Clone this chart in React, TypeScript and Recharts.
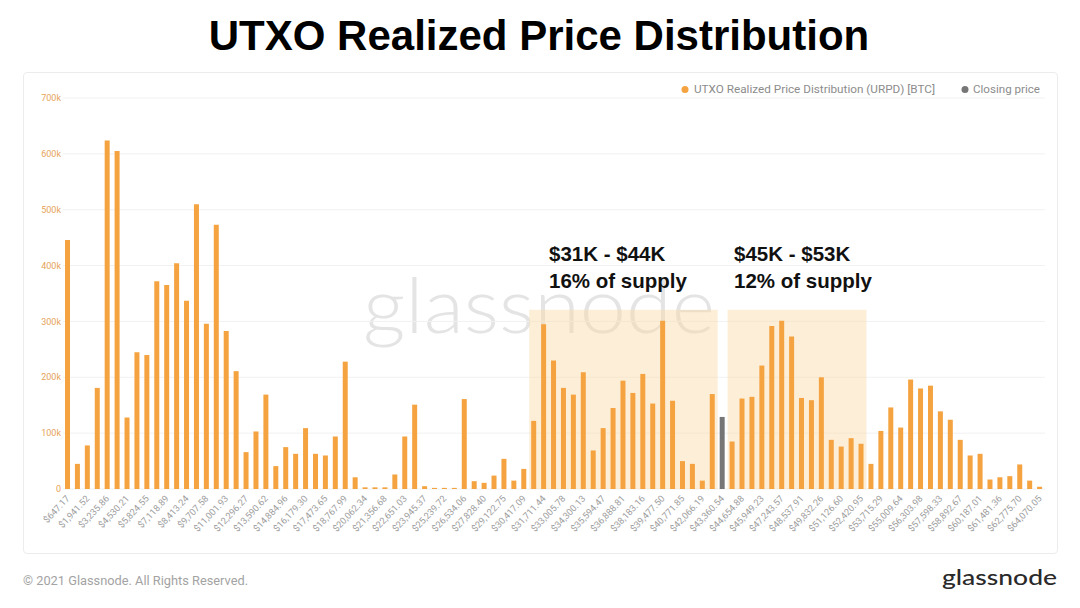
import React from 'react';
import { BarChart, Bar, XAxis, YAxis, CartesianGrid, ReferenceArea } from 'recharts';

// price bucket labels (shown on every second bar)
const PRICE_LABELS = [
  '$647.17', '$1,941.52', '$3,235.86', '$4,530.21', '$5,824.55', '$7,118.89', '$8,413.24', '$9,707.58',
  '$11,001.93', '$12,296.27', '$13,590.62', '$14,884.96', '$16,179.30', '$17,473.65', '$18,767.99',
  '$20,062.34', '$21,356.68', '$22,651.03', '$23,945.37', '$25,239.72', '$26,534.06', '$27,828.40',
  '$29,122.75', '$30,417.09', '$31,711.44', '$33,005.78', '$34,300.13', '$35,594.47', '$36,888.81',
  '$38,183.16', '$39,477.50', '$40,771.85', '$42,066.19', '$43,360.54', '$44,654.88', '$45,949.23',
  '$47,243.57', '$48,537.91', '$49,832.26', '$51,126.60', '$52,420.95', '$53,715.29', '$55,009.64',
  '$56,303.98', '$57,598.33', '$58,892.67', '$60,187.01', '$61,481.36', '$62,775.70', '$64,070.05',
];

// BTC per bucket, in thousands
const URPD_K = [
  446, 45, 78, 181, 624, 605, 128, 245, 240, 372,
  365, 404, 337, 510, 296, 473, 283, 211, 66, 103,
  169, 41, 75, 63, 109, 63, 60, 94, 228, 21,
  3, 3, 3, 26, 94, 151, 5, 2, 2, 2,
  161, 14, 11, 24, 54, 15, 36, 122, 295, 230,
  181, 169, 209, 69, 109, 145, 194, 172, 206, 153,
  301, 158, 50, 45, 15, 170, 129, 85, 162, 165,
  221, 292, 301, 273, 163, 159, 200, 88, 76, 91,
  81, 45, 104, 146, 110, 196, 180, 185, 139, 124,
  88, 60, 63, 17, 21, 23, 44, 15, 4,
];

const CLOSING_INDEX = 66;
const Y_TICKS = [0, 100000, 200000, 300000, 400000, 500000, 600000, 700000];

const ZONES = [
  { from: 47, to: 65, top: 321000, range: '$31K - $44K', share: '16% of supply' },
  { from: 67, to: 80, top: 321000, range: '$45K - $53K', share: '12% of supply' },
];

const ORANGE = '#f4a340';
const GREY_BAR = '#767676';

const rows = URPD_K.map((v, i) => ({
  idx: i,
  urpd: i === CLOSING_INDEX ? 0 : v * 1000,
  closing: i === CLOSING_INDEX ? v * 1000 : 0,
}));

function PriceTick(props: any) {
  const { x, y, payload } = props;
  const i = payload.value as number;
  if (i % 2 !== 0) return <g />;
  return (
    <g transform={`translate(${x},${y})`}>
      <text
        x={0}
        y={0}
        dy={3}
        textAnchor="end"
        transform="rotate(-47)"
        fontSize={9.2}
        fill="#9d9d9d"
        fontFamily="Roboto, sans-serif"
      >
        {PRICE_LABELS[i / 2]}
      </text>
    </g>
  );
}

export default function App() {
  const sans = 'Roboto, "Noto Sans", sans-serif';
  const bold = '"Liberation Sans", Arial, sans-serif';
  return (
    <div style={{ position: 'absolute', left: 0, top: 0, width: 1080, height: 608, background: '#fff', overflow: 'hidden' }}>
      {/* card */}
      <div style={{ position: 'absolute', left: 23, top: 72, width: 1033, height: 480, border: '1px solid #ececec', borderRadius: 4 }} />

      {/* watermark */}
      <svg width={1080} height={608} style={{ position: 'absolute', left: 0, top: 0 }}>
        <text x={363} y={333} fontSize={76} fontWeight={300} fill="#e4e4e4" fontFamily={'Lato, "Noto Sans", sans-serif'} textLength={352} lengthAdjust="spacingAndGlyphs">
          glassnode
        </text>
      </svg>

      <div style={{ position: 'absolute', left: 0, top: 0 }}>
        <BarChart width={1080} height={608} data={rows} margin={{ top: 98, right: 35, bottom: 59, left: 23 }} barSize={5}>
          <CartesianGrid vertical={false} stroke="#f1f1f1" />
          {ZONES.map(z => (
            <ReferenceArea
              key={z.range}
              x1={z.from}
              x2={z.to}
              y1={0}
              y2={z.top}
              fill="#fbd9a8"
              fillOpacity={0.45}
              stroke="none"
            />
          ))}
          <XAxis
            dataKey="idx"
            type="category"
            interval={1}
            tickLine={false}
            axisLine={false}
            tickSize={0}
            tickMargin={8}
            height={60}
            tick={<PriceTick />}
          />
          <YAxis
            domain={[0, 700000]}
            ticks={Y_TICKS}
            tickFormatter={v => (v === 0 ? '0' : `${v / 1000}k`)}
            tick={{ fill: '#e5a35a', fontSize: 9, fontFamily: sans }}
            tickLine={false}
            axisLine={false}
            tickSize={0}
            tickMargin={2}
            width={40}
          />
          <Bar dataKey="urpd" stackId="s" fill={ORANGE} isAnimationActive={false} />
          <Bar dataKey="closing" stackId="s" fill={GREY_BAR} isAnimationActive={false} />
        </BarChart>
      </div>

      {/* texts */}
      <svg width={1080} height={608} style={{ position: 'absolute', left: 0, top: 0, pointerEvents: 'none' }}>
        <text x={539} y={50} textAnchor="middle" fontSize={42} fontWeight={700} fill="#000" fontFamily={bold}>
          UTXO Realized Price Distribution
        </text>

        {ZONES.map((z, k) => (
          <g key={z.range} fontFamily={bold} fontWeight={700} fontSize={20.5} fill="#111">
            <text x={k === 0 ? 549 : 734} y={261}>{z.range}</text>
            <text x={k === 0 ? 549 : 734} y={288}>{z.share}</text>
          </g>
        ))}

        {/* legend */}
        <circle cx={685} cy={89.5} r={3.5} fill={ORANGE} />
        <text x={694} y={93} fontSize={10} fill="#8c8c8c" fontFamily={sans} textLength={241} lengthAdjust="spacingAndGlyphs">
          UTXO Realized Price Distribution (URPD) [BTC]
        </text>
        <circle cx={965} cy={89.5} r={3.5} fill={GREY_BAR} />
        <text x={973} y={93} fontSize={10} fill="#8c8c8c" fontFamily={sans} textLength={67} lengthAdjust="spacingAndGlyphs">
          Closing price
        </text>

        {/* footer */}
        <text x={23} y={585} fontSize={12.5} fill="#a3a3a3" fontFamily={sans} textLength={225} lengthAdjust="spacingAndGlyphs">
          © 2021 Glassnode. All Rights Reserved.
        </text>
        <text x={942} y={585} fontSize={21} fontWeight={500} fill="#2a2a2a" fontFamily={'Lato, "Noto Sans", sans-serif'} textLength={115} lengthAdjust="spacingAndGlyphs">
          glassnode
        </text>
      </svg>
    </div>
  );
}
